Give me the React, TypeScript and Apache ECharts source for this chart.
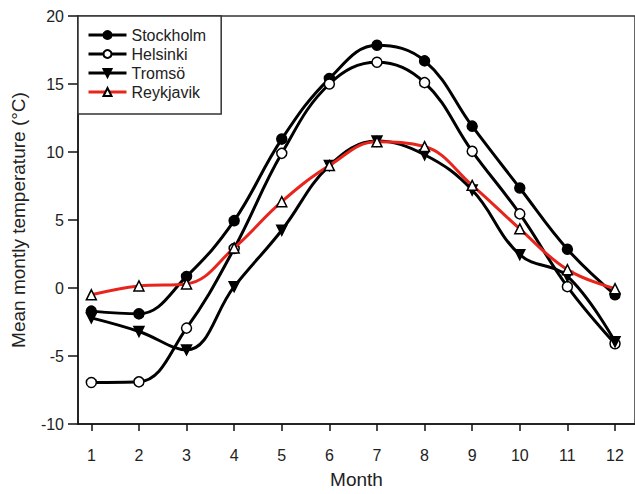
import React, { useEffect, useRef } from "react";
import * as echarts from "echarts";

const months = [1, 2, 3, 4, 5, 6, 7, 8, 9, 10, 11, 12];
const stockholm = [-1.7, -1.9, 0.85, 4.95, 10.95, 15.4, 17.85, 16.7, 11.9, 7.35, 2.85, -0.5];
const helsinki = [-6.95, -6.9, -2.95, 2.9, 9.9, 15.0, 16.6, 15.1, 10.05, 5.45, 0.1, -4.1];
const tromso = [-2.2, -3.2, -4.55, 0.1, 4.25, 9.0, 10.8, 9.8, 7.2, 2.45, 0.85, -3.95];
const reykjavik = [-0.5, 0.15, 0.3, 2.95, 6.35, 9.0, 10.75, 10.4, 7.55, 4.35, 1.35, -0.05];
const yTicks = [-10, -5, 0, 5, 10, 15, 20];

const FONT = "Liberation Sans, Arial, sans-serif";

export default function App() {
  const ref = useRef<HTMLDivElement>(null);
  useEffect(() => {
    if (!ref.current) return;
    const chart = echarts.init(ref.current, null, { renderer: "svg" });
    const mk = (arr: number[]) => months.map((m, i) => [m, arr[i]]);
    const base = {
      type: "line",
      smooth: 0.4,
      symbolSize: 10,
      lineStyle: { width: 3, color: "#000" },
      itemStyle: { color: "#000", borderColor: "#000", borderWidth: 1.5 },
      z: 2,
    };
    chart.setOption({
      animation: false,
      backgroundColor: "#fff",
      textStyle: { fontFamily: FONT },
      grid: {
        left: 78,
        top: 16,
        width: 558,
        height: 408,
        show: true,
        borderColor: "#333",
        borderWidth: 1.5,
        containLabel: false,
      },
      legend: {
        orient: "vertical",
        left: 78,
        top: 16,
        padding: [11, 15, 14, 9],
        itemGap: 3,
        itemWidth: 38,
        itemHeight: 10,
        borderColor: "#333",
        borderWidth: 1.5,
        backgroundColor: "#fff",
        lineStyle: { width: 3 },
        textStyle: { fontSize: 16, color: "#222", fontFamily: FONT, lineHeight: 16 },
        data: ["Stockholm", "Helsinki", "Tromsö", "Reykjavik"],
      },
      xAxis: {
        type: "value",
        min: 0.72,
        max: 12.42,
        name: "Month",
        nameLocation: "middle",
        nameGap: 46,
        nameTextStyle: { fontSize: 19, color: "#222", fontFamily: FONT },
        axisLine: { show: true, onZero: false, lineStyle: { color: "#111", width: 1.5 } },
        axisTick: { show: true, length: 7, customValues: months, lineStyle: { color: "#111", width: 1.5 } },
        axisLabel: { customValues: months, margin: 23, fontSize: 16, color: "#222", fontFamily: FONT },
        splitLine: { show: false },
      },
      yAxis: {
        type: "value",
        min: -10,
        max: 20,
        interval: 5,
        name: "Mean montly temperature (°C)",
        nameLocation: "middle",
        nameGap: 50,
        nameRotate: 90,
        nameTextStyle: { fontSize: 19, color: "#222", fontFamily: FONT },
        axisLine: { show: true, onZero: false, lineStyle: { color: "#111", width: 1.5 } },
        axisTick: { show: true, length: 10, customValues: yTicks, lineStyle: { color: "#111", width: 1.5 } },
        axisLabel: { customValues: yTicks, margin: 14, fontSize: 16, color: "#222", fontFamily: FONT },
        splitLine: { show: false },
      },
      series: [
        { ...base, name: "Stockholm", symbol: "circle", data: mk(stockholm) },
        {
          ...base,
          name: "Helsinki",
          symbol: "circle",
          itemStyle: { color: "#fff", borderColor: "#000", borderWidth: 1.5 },
          data: mk(helsinki),
        },
        { ...base, name: "Tromsö", symbol: "triangle", symbolRotate: 180, data: mk(tromso) },
        {
          ...base,
          name: "Reykjavik",
          symbol: "triangle",
          lineStyle: { width: 3, color: "#e8251c" },
          itemStyle: { color: "#fff", borderColor: "#000", borderWidth: 1.5 },
          data: mk(reykjavik),
          z: 3,
        },
      ],
    });
    return () => chart.dispose();
  }, []);
  return <div ref={ref} style={{ width: 635, height: 494, position: "absolute", left: 0, top: 0 }} />;
}
